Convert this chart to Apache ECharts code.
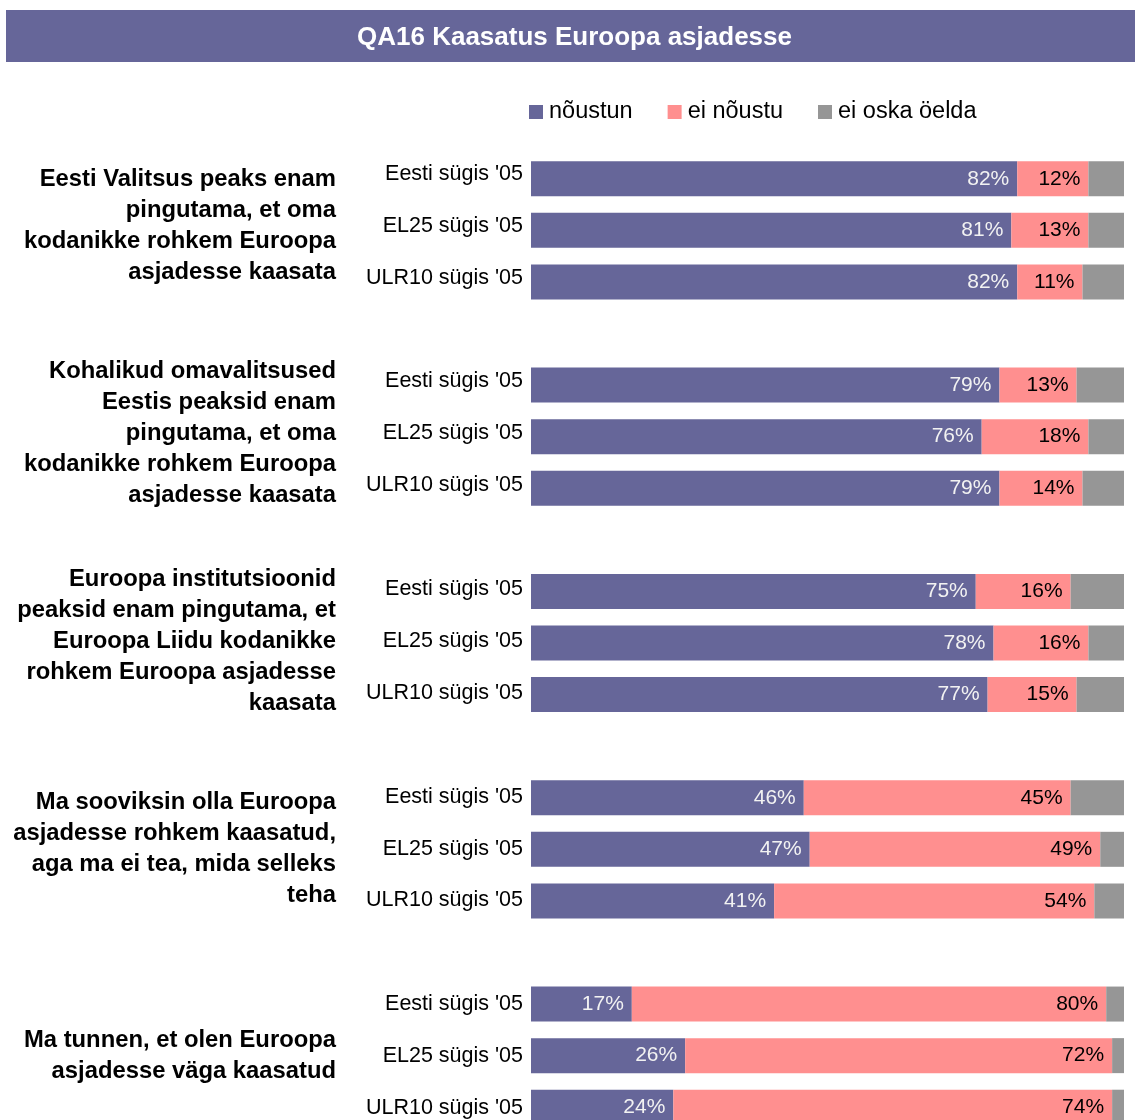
<!DOCTYPE html>
<html>
<head>
<meta charset="utf-8">
<title>QA16 Kaasatus Euroopa asjadesse</title>
<script src="https://cdn.jsdelivr.net/npm/echarts@6/dist/echarts.min.js"></script>
<style>
  html, body { margin: 0; padding: 0; background: #fff; }
  #chart { width: 1135px; height: 1120px; }
</style>
</head>
<body>
<div id="chart"></div>
<script>
// andmed
const groupLabels = ["Eesti sügis '05", "EL25 sügis '05", "ULR10 sügis '05"];
const questions = [
  "Eesti Valitsus peaks enam\npingutama, et oma\nkodanikke rohkem Euroopa\nasjadesse kaasata",
  "Kohalikud omavalitsused\nEestis peaksid enam\npingutama, et oma\nkodanikke rohkem Euroopa\nasjadesse kaasata",
  "Euroopa institutsioonid\npeaksid enam pingutama, et\nEuroopa Liidu kodanikke\nrohkem Euroopa asjadesse\nkaasata",
  "Ma sooviksin olla Euroopa\nasjadesse rohkem kaasatud,\naga ma ei tea, mida selleks\nteha",
  "Ma tunnen, et olen Euroopa\nasjadesse väga kaasatud"
];
const seriesNames = ["nõustun", "ei nõustu", "ei oska öelda"];
const agree = [[82, 81, 82], [79, 76, 79], [75, 78, 77], [46, 47, 41], [17, 26, 24]];
const disagree = [[12, 13, 11], [13, 18, 14], [16, 16, 15], [45, 49, 54], [80, 72, 74]];
const dontKnow = [[7, 6, 7], [8, 6, 7], [9, 6, 8], [9, 4, 5], [3, 2, 2]];

const colors = ["#666699", "#FF8F8F", "#969696"];
const font = "Liberation Sans, Arial, sans-serif";

// kategooriad koos tühjade vahedega gruppide vahel
const cats = [];
const questionCats = [];
questions.forEach((q, gi) => {
  groupLabels.forEach((g, i) => {
    cats.push(g);
    questionCats.push(i === 1 ? q : "");
  });
  if (gi < questions.length - 1) {
    cats.push("");
    questionCats.push("");
  }
});

const flatten = (arr) => {
  const out = [];
  arr.forEach((grp, gi) => {
    grp.forEach((v) => out.push(v));
    if (gi < arr.length - 1) out.push(null);
  });
  return out;
};

const myChart = echarts.init(document.getElementById("chart"));

const barSeries = (idx, values, labelColor) => ({
  name: seriesNames[idx],
  type: "bar",
  stack: "total",
  barWidth: 35,
  xAxisIndex: 0,
  yAxisIndex: 0,
  itemStyle: { color: colors[idx] },
  label: {
    show: labelColor !== null,
    position: "insideRight",
    distance: 8,
    formatter: "{c}%",
    color: labelColor,
    fontSize: 21,
    fontFamily: font,
  },
  data: flatten(values),
});

const hiddenAxis = {
  axisLine: { show: false },
  axisTick: { show: false },
  splitLine: { show: false },
};

myChart.setOption({
  animation: false,
  textStyle: { fontFamily: font },
  graphic: [
    {
      type: "rect",
      left: 6,
      top: 10,
      shape: { width: 1129, height: 52 },
      style: { fill: "#666699" },
      z: -1,
    },
  ],
  title: {
    text: "QA16 Kaasatus Euroopa asjadesse",
    left: 357,
    top: 25,
    padding: 0,
    textStyle: {
      color: "#fff",
      fontSize: 26,
      fontWeight: "bold",
      fontFamily: font,
    },
  },
  legend: {
    left: 524,
    top: 95,
    itemWidth: 14,
    itemHeight: 14,
    itemGap: 35,
    icon: "rect",
    textStyle: { fontSize: 23.5, color: "#000", padding: [0, 0, 0, 1] },
    data: seriesNames,
  },
  // grid 0: tulbad, grid 1: sildid (veidi teise sammuga nagu originaalis)
  grid: [
    { left: 531, top: 153, width: 593, height: 980, containLabel: false, outerBoundsMode: "none" },
    { left: 531, top: 148, width: 593, height: 986, containLabel: false, outerBoundsMode: "none" },
  ],
  xAxis: [
    { gridIndex: 0, type: "value", min: 0, max: 100, show: false },
    { gridIndex: 1, type: "value", min: 0, max: 100, show: false },
  ],
  yAxis: [
    {
      gridIndex: 0,
      type: "category",
      inverse: true,
      data: cats,
      ...hiddenAxis,
      axisLabel: { show: false },
    },
    {
      gridIndex: 1,
      type: "category",
      inverse: true,
      data: cats,
      ...hiddenAxis,
      axisLabel: { interval: 0, margin: 8, fontSize: 21.5, color: "#000" },
    },
    {
      gridIndex: 1,
      type: "category",
      inverse: true,
      position: "left",
      offset: 187,
      data: questionCats,
      ...hiddenAxis,
      axisLabel: {
        interval: 0,
        margin: 8,
        fontSize: 23.8,
        fontWeight: "bold",
        lineHeight: 31,
        color: "#000",
        align: "right",
      },
    },
  ],
  series: [
    barSeries(0, agree, "#f2f2f2"),
    barSeries(1, disagree, "#000"),
    barSeries(2, dontKnow, null),
  ],
});
</script>
</body>
</html>
